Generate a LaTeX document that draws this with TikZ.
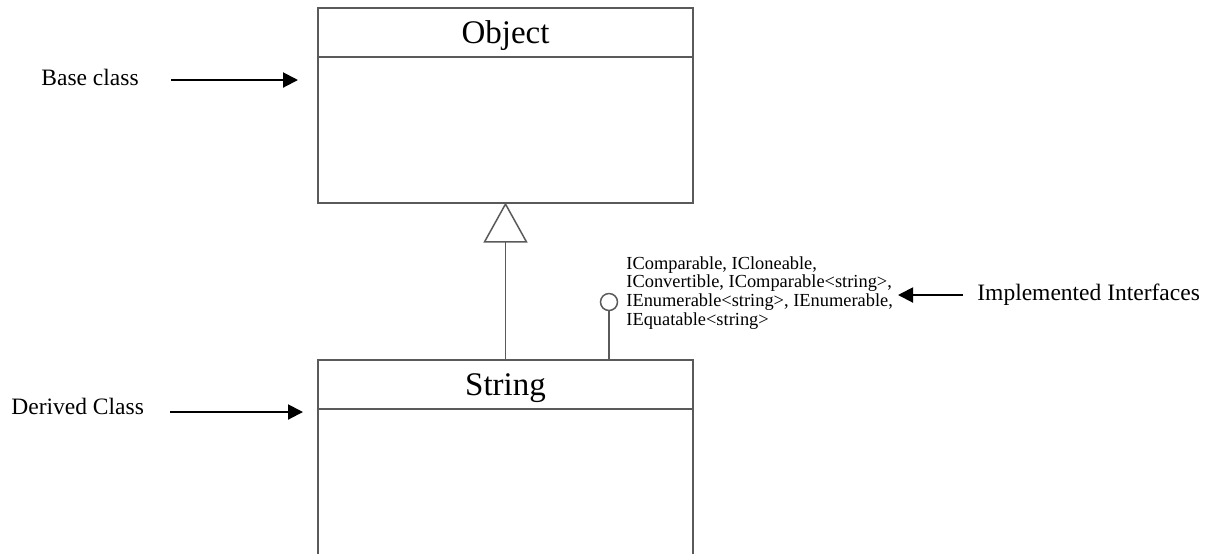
\documentclass[tikz,border=0pt]{standalone}
\usepackage{fontspec}
\setmainfont{Liberation Serif}
\usetikzlibrary{arrows.meta}
\definecolor{boxgray}{HTML}{5A5A5A}
\tikzset{
  boxline/.style={draw=boxgray, line width=0.75pt},
  titletext/.style={font=\fontsize{16.5}{20}\selectfont, inner sep=0pt, anchor=base},
  labeltext/.style={font=\fontsize{11.75}{14}\selectfont, inner sep=0pt, anchor=base west},
  pointer/.style={draw=black, line width=1pt, -{Triangle[length=7.5pt,width=7.5pt]}},
  ifacetext/.style={font=\fontsize{9.2}{9.35}\selectfont, align=left, inner sep=0pt, anchor=north west}
}
\begin{document}
\begin{tikzpicture}[x=0.5pt,y=-0.5pt]
\useasboundingbox (0,0) rectangle (1208,554);
% Object class box
\node[boxline, minimum width=187.5pt, minimum height=97.5pt, inner sep=0pt] (obj) at (505.5,105.5) {};
\draw[boxline] (318,57) coordinate (objhl) -- (693,57) coordinate (objhr);
\node[titletext] (objtitle) at (505.5,43) {Object};
% String class box (open at the bottom)
\coordinate (strnw) at (318,360);
\coordinate (strne) at (693,360);
\coordinate (strsw) at (318,554);
\coordinate (strse) at (693,554);
\coordinate (str) at (505.5,360);
\draw[boxline] (strsw) -- (strnw) -- (strne) -- (strse);
\draw[boxline] (318,409) coordinate (strhl) -- (693,409) coordinate (strhr);
\node[titletext] (strtitle) at (505.5,395) {String};
% generalization
\coordinate (objbot) at (505.5,202.5);
\draw[boxline, -{Triangle[open,length=20pt,width=22pt,line width=0.75pt]}] (str) -- (objbot);
% lollipop interface
\node[boxline, circle, minimum size=8.5pt, inner sep=0pt] (iface) at (609,302) {};
\draw[boxline] (iface.south) -- (iface.south |- strnw);
\node[ifacetext] (ifacelist) at (626,256) {IComparable, ICloneable,\\IConvertible, IComparable<string>,\\IEnumerable<string>, IEnumerable,\\IEquatable<string>};
% annotations
\node[labeltext] (baselbl) at (41,85) {Base class};
\coordinate (basetip) at (298,80);
\draw[pointer] (171,80) -- (basetip);
\node[labeltext] (derlbl) at (11,414) {Derived Class};
\coordinate (dertip) at (303,412);
\draw[pointer] (170,412) -- (dertip);
\node[labeltext] (impllbl) at (977,300) {Implemented Interfaces};
\coordinate (impltip) at (898,295);
\draw[pointer] (963,295) -- (impltip);
\end{tikzpicture}
\end{document}
